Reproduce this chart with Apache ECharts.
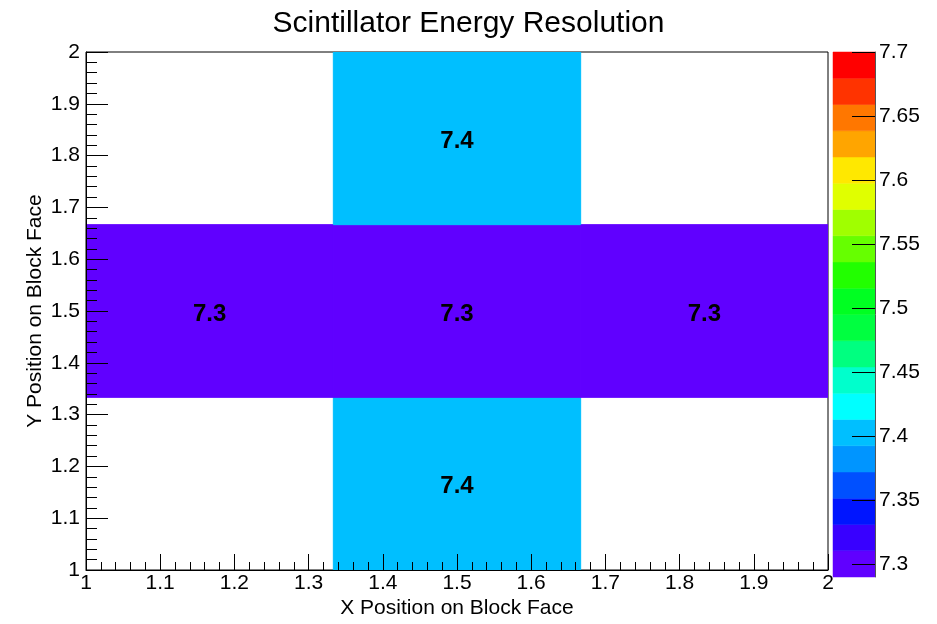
<!DOCTYPE html>
<html>
<head>
<meta charset="utf-8">
<script src="https://cdn.jsdelivr.net/npm/echarts@6/dist/echarts.min.js"></script>
<style>
  html, body { margin: 0; padding: 0; background: #ffffff; }
  #chart { width: 937px; height: 624px; }
</style>
</head>
<body>
<div id="chart"></div>
<script>
// ---- data ----
const titleText = 'Scintillator Energy Resolution';
const xTitle = 'X Position on Block Face';
const yTitle = 'Y Position on Block Face';

// bin edges of the 3x3 histogram
const binEdgesX = [1, 4 / 3, 5 / 3, 2];
const binEdgesY = [1, 4 / 3, 5 / 3, 2];

// bin contents, rows from bottom (y = 1) to top (y = 2); null = empty bin
const resolutionRows = [
  [null, 7.4, null],
  [7.3, 7.3, 7.3],
  [null, 7.4, null]
];

// z range of the colour scale and its palette (low -> high)
const zMin = 7.29;
const zMax = 7.7;
const paletteColors = [
  '#6000ff', '#3800ff', '#0015ff', '#0050ff', '#0095ff',
  '#00bfff', '#00ffff', '#00ffcc', '#00ff80', '#00ff40',
  '#00ff22', '#22ff00', '#66ff00', '#a0ff00', '#e0ff00',
  '#ffe800', '#ffa500', '#ff7700', '#ff3300', '#ff0000'
];
const colorBarTicks = [7.3, 7.35, 7.4, 7.45, 7.5, 7.55, 7.6, 7.65, 7.7];

// ---- helpers ----
const FONT = '"Liberation Sans", Arial, Helvetica, sans-serif';

function paletteIndex(v) {
  const n = paletteColors.length;
  const i = Math.floor((v - zMin) / (zMax - zMin) * n);
  return Math.max(0, Math.min(n - 1, i));
}

// cells: [x0, x1, y0, y1, value]
const cellData = [];
resolutionRows.forEach((row, iy) => {
  row.forEach((v, ix) => {
    if (v === null) return;
    cellData.push([binEdgesX[ix], binEdgesX[ix + 1], binEdgesY[iy], binEdgesY[iy + 1], v]);
  });
});

// colour bar bands: [lo, hi, index]
const bandData = paletteColors.map((c, i) => {
  const step = (zMax - zMin) / paletteColors.length;
  return [zMin + i * step, zMin + (i + 1) * step, i];
});

const chart = echarts.init(document.getElementById('chart'), null, { renderer: 'canvas' });

const option = {
  backgroundColor: '#ffffff',
  animation: false,
  title: {
    text: titleText,
    left: 'center',
    top: 4,
    textStyle: { fontFamily: FONT, fontSize: 30, fontWeight: 'normal', color: '#000' }
  },
  grid: [
    { left: 86, top: 52, width: 742, height: 525, show: true, borderColor: '#000', borderWidth: 1, backgroundColor: 'transparent' },
    { left: 833, top: 52, width: 42, height: 525 }
  ],
  xAxis: [
    {
      gridIndex: 0,
      type: 'value',
      min: 1, max: 2, interval: 0.1,
      z: 5,
      name: xTitle,
      nameLocation: 'middle',
      nameGap: 28,
      nameMoveOverlap: false,
      nameTextStyle: { fontFamily: FONT, fontSize: 21, color: '#000', verticalAlign: 'top' },
      axisLine: { show: true, onZero: false, lineStyle: { color: '#000', width: 1 } },
      axisTick: { show: true, inside: true, length: 16, lineStyle: { color: '#000', width: 1 } },
      minorTick: { show: true, splitNumber: 5, length: 8, lineStyle: { color: '#000', width: 1 } },
      splitLine: { show: false },
      minorSplitLine: { show: false },
      axisLabel: { fontFamily: FONT, fontSize: 21, color: '#000', margin: 3 }
    },
    {
      gridIndex: 1,
      type: 'value',
      min: 0, max: 1,
      show: false
    }
  ],
  yAxis: [
    {
      gridIndex: 0,
      type: 'value',
      min: 1, max: 2, interval: 0.1,
      z: 5,
      name: yTitle,
      nameLocation: 'middle',
      nameGap: 40,
      nameMoveOverlap: false,
      nameTextStyle: { fontFamily: FONT, fontSize: 21, color: '#000' },
      axisLine: { show: true, onZero: false, lineStyle: { color: '#000', width: 1 } },
      axisTick: { show: true, inside: true, length: 22, lineStyle: { color: '#000', width: 1 } },
      minorTick: { show: true, splitNumber: 5, length: 11, lineStyle: { color: '#000', width: 1 } },
      splitLine: { show: false },
      minorSplitLine: { show: false },
      axisLabel: { fontFamily: FONT, fontSize: 21, color: '#000', margin: 6 }
    },
    {
      gridIndex: 1,
      type: 'value',
      position: 'right',
      min: zMin, max: zMax,
      z: 5,
      axisLine: { show: true, onZero: false, lineStyle: { color: '#555', width: 1 } },
      axisTick: { show: true, inside: true, length: 23, customValues: colorBarTicks, lineStyle: { color: '#000', width: 1 } },
      splitLine: { show: false },
      axisLabel: {
        fontFamily: FONT, fontSize: 21, color: '#000', margin: 4,
        customValues: colorBarTicks,
        formatter: v => String(+v.toFixed(2))
      }
    }
  ],
  series: [
    {
      type: 'custom',
      name: 'resolution',
      coordinateSystem: 'cartesian2d',
      xAxisIndex: 0, yAxisIndex: 0,
      z: 2,
      silent: true,
      clip: true,
      data: cellData,
      renderItem(params, api) {
        const v = api.value(4);
        const p0 = api.coord([api.value(0), api.value(3)]);
        const p1 = api.coord([api.value(1), api.value(2)]);
        const fill = paletteColors[paletteIndex(v)];
        return {
          type: 'rect',
          shape: { x: p0[0], y: p0[1], width: p1[0] - p0[0], height: p1[1] - p0[1] },
          style: { fill: fill, stroke: fill, lineWidth: 1 },
          textContent: {
            style: {
              text: String(v),
              fontFamily: FONT, fontSize: 24, fontWeight: 'bold', fill: '#000'
            }
          },
          textConfig: { position: 'inside', offset: [0, 3] }
        };
      }
    },
    {
      type: 'custom',
      name: 'colorbar',
      coordinateSystem: 'cartesian2d',
      xAxisIndex: 1, yAxisIndex: 1,
      z: 2,
      silent: true,
      data: bandData,
      renderItem(params, api) {
        const top = api.coord([0, api.value(1)]);
        const bot = api.coord([1, api.value(0)]);
        const fill = paletteColors[api.value(2)];
        return {
          type: 'rect',
          shape: { x: top[0], y: top[1], width: bot[0] - top[0], height: bot[1] - top[1] },
          style: { fill: fill, stroke: fill, lineWidth: 0.5 }
        };
      }
    }
  ]
};

chart.setOption(option);
</script>
</body>
</html>
